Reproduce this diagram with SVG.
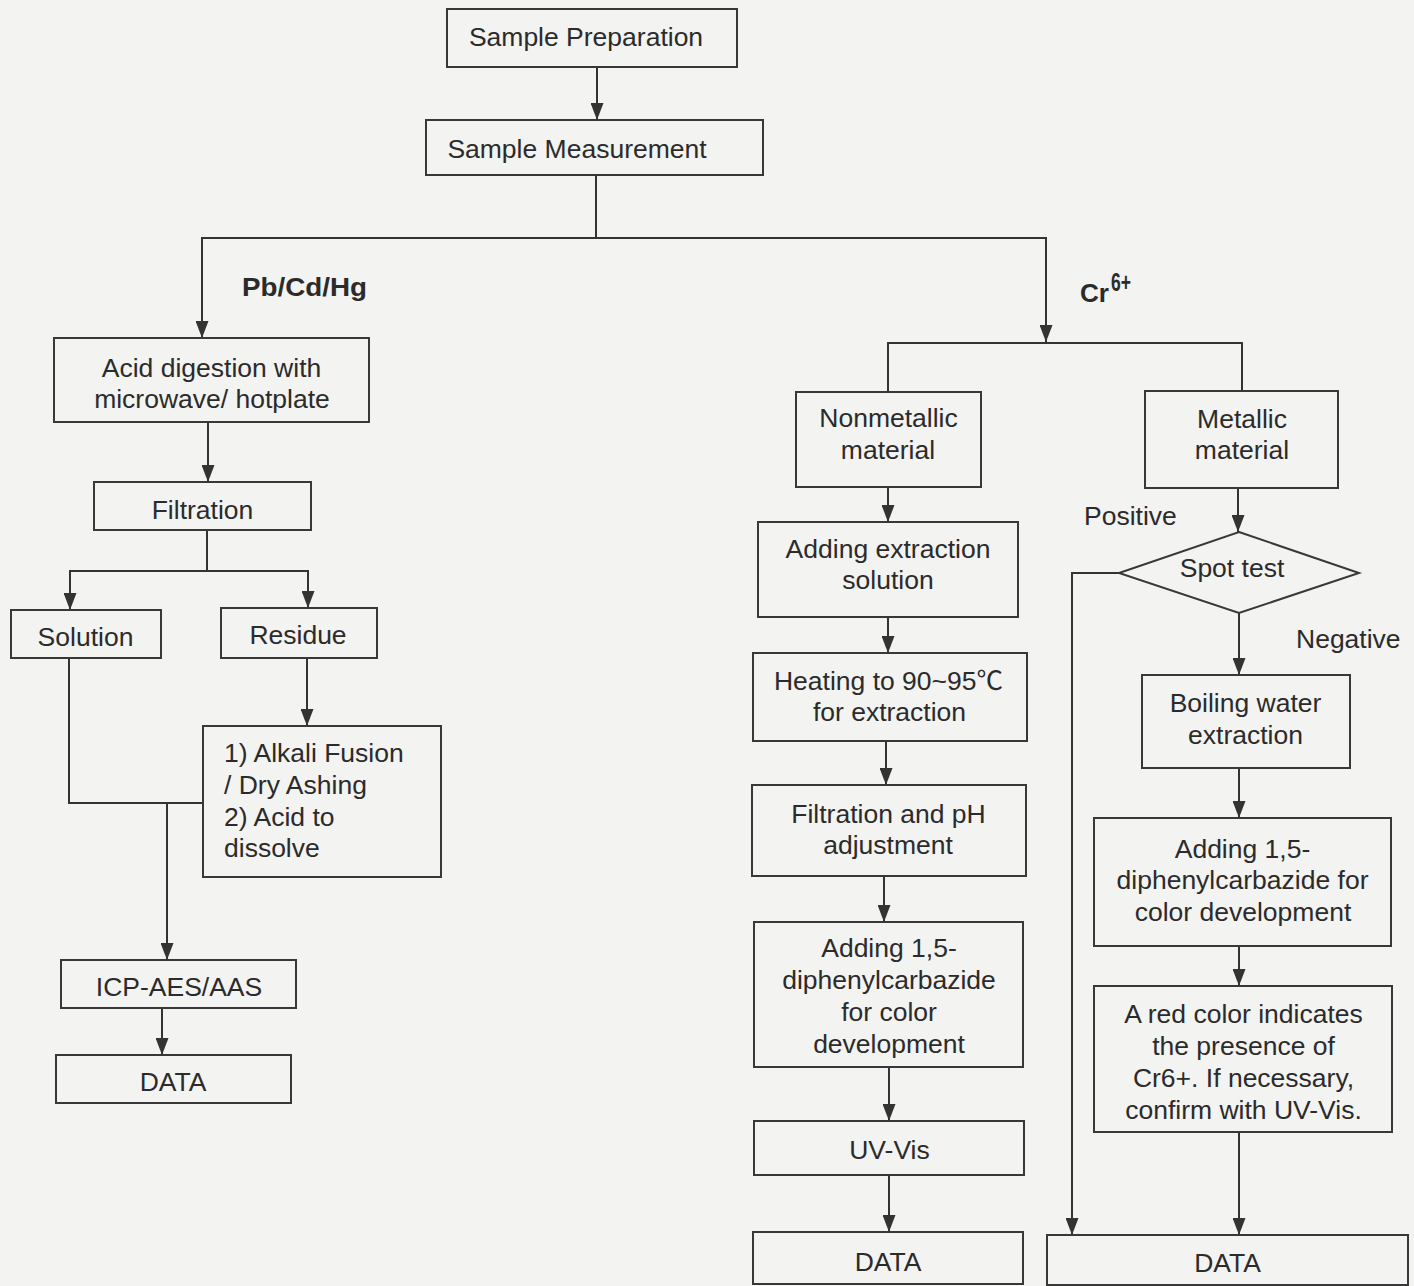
<svg xmlns="http://www.w3.org/2000/svg" width="1414" height="1286" viewBox="0 0 1414 1286">
<defs>
<marker id="arr" viewBox="0 0 17 13" refX="17" refY="6.5" markerWidth="17" markerHeight="13" markerUnits="userSpaceOnUse" orient="auto">
<path d="M0,0 L17,6.5 L0,13 z" fill="#333"/>
</marker>
<style>
.box{fill:none;stroke:#383838;stroke-width:2}
.t{font-family:"Liberation Sans",Arial,"Noto Sans CJK SC",sans-serif;font-size:26.5px;fill:#2b2b2b}
.c{text-anchor:middle}
.b{font-weight:bold}
.ln{fill:none;stroke:#333;stroke-width:2}
.ar{marker-end:url(#arr)}
</style>
</defs>
<rect x="0" y="0" width="1414" height="1286" fill="#f3f3f1"/>

<g id="connectors">
<path class="ln ar" d="M597,67 V120"/>
<path class="ln" d="M596,175 V238"/>
<path class="ln ar" d="M596,238 H202 V338"/>
<path class="ln ar" d="M596,238 H1046 V342"/>
<path class="ln" d="M888,392 V343 H1242 V391"/>
<path class="ln ar" d="M208,422 V482"/>
<path class="ln" d="M207,530 V571"/>
<path class="ln ar" d="M207,571 H70 V610"/>
<path class="ln ar" d="M207,571 H308 V608"/>
<path class="ln ar" d="M307,658 V726"/>
<path class="ln" d="M69,658 V803 H203"/>
<path class="ln ar" d="M167,803 V960"/>
<path class="ln ar" d="M162,1008 V1055"/>
<path class="ln ar" d="M888,487 V522"/>
<path class="ln ar" d="M888,617 V653"/>
<path class="ln ar" d="M886,741 V785"/>
<path class="ln ar" d="M884,876 V922"/>
<path class="ln ar" d="M889,1067 V1121"/>
<path class="ln ar" d="M889,1175 V1232"/>
<path class="ln ar" d="M1238,488 V532"/>
<path class="ln ar" d="M1239,613 V675"/>
<path class="ln ar" d="M1119,573 H1072 V1235"/>
<path class="ln ar" d="M1239,768 V818"/>
<path class="ln ar" d="M1239,946 V986"/>
<path class="ln ar" d="M1239,1132 V1235"/>
<text class="t b" x="242" y="296" font-size="22" textLength="125" lengthAdjust="spacingAndGlyphs">Pb/Cd/Hg</text>
<text class="t b" x="1080" y="302" font-size="22" textLength="29" lengthAdjust="spacingAndGlyphs">Cr</text>
<text class="t b" x="1111" y="291" font-size="11.5" textLength="20" lengthAdjust="spacingAndGlyphs">6+</text>
<text class="t" x="1084" y="525">Positive</text>
<text class="t" x="1296" y="648">Negative</text>
</g>

<g id="sample-preparation">
<rect class="box" x="447" y="9" width="290" height="58"/>
<text class="t c" x="586" y="46">Sample Preparation</text>
</g>
<g id="sample-measurement">
<rect class="box" x="426" y="120" width="337" height="55"/>
<text class="t c" x="577" y="158">Sample Measurement</text>
</g>
<g id="acid-digestion">
<rect class="box" x="54" y="338" width="315" height="84"/>
<text class="t c" x="211.5" y="377">Acid digestion with</text>
<text class="t c" x="212" y="408">microwave/ hotplate</text>
</g>
<g id="filtration">
<rect class="box" x="94" y="482" width="217" height="48"/>
<text class="t c" x="202.5" y="519">Filtration</text>
</g>
<g id="solution">
<rect class="box" x="11" y="610" width="150" height="48"/>
<text class="t c" x="85.5" y="646">Solution</text>
</g>
<g id="residue">
<rect class="box" x="221" y="608" width="156" height="50"/>
<text class="t c" x="298" y="644">Residue</text>
</g>
<g id="alkali-fusion">
<rect class="box" x="203" y="726" width="238" height="151"/>
<text class="t" x="224" y="762">1) Alkali Fusion</text>
<text class="t" x="224" y="794">/ Dry Ashing</text>
<text class="t" x="224" y="826">2) Acid to</text>
<text class="t" x="224" y="857">dissolve</text>
</g>
<g id="icp">
<rect class="box" x="61" y="960" width="235" height="48"/>
<text class="t c" x="179" y="996">ICP-AES/AAS</text>
</g>
<g id="data-left">
<rect class="box" x="56" y="1055" width="235" height="48"/>
<text class="t c" x="173" y="1091">DATA</text>
</g>

<g id="nonmetallic">
<rect class="box" x="796" y="392" width="185" height="95"/>
<text class="t c" x="888.5" y="427">Nonmetallic</text>
<text class="t c" x="888" y="459">material</text>
</g>
<g id="adding-extraction">
<rect class="box" x="758" y="522" width="260" height="95"/>
<text class="t c" x="888" y="558">Adding extraction</text>
<text class="t c" x="888" y="589">solution</text>
</g>
<g id="heating">
<rect class="box" x="753" y="653" width="274" height="88"/>
<text class="t c" x="888.5" y="690">Heating to 90~95℃</text>
<text class="t c" x="889.5" y="721">for extraction</text>
</g>
<g id="filtration-ph">
<rect class="box" x="752" y="785" width="274" height="91"/>
<text class="t c" x="888.5" y="823">Filtration and pH</text>
<text class="t c" x="888" y="854">adjustment</text>
</g>
<g id="adding-dpc-left">
<rect class="box" x="754" y="922" width="269" height="145"/>
<text class="t c" x="889" y="957">Adding 1,5-</text>
<text class="t c" x="889" y="989">diphenylcarbazide</text>
<text class="t c" x="889" y="1021">for color</text>
<text class="t c" x="889" y="1053">development</text>
</g>
<g id="uv-vis">
<rect class="box" x="754" y="1121" width="270" height="54"/>
<text class="t c" x="889.5" y="1159">UV-Vis</text>
</g>
<g id="data-middle">
<rect class="box" x="753" y="1232" width="270" height="52"/>
<text class="t c" x="888" y="1271">DATA</text>
</g>

<g id="metallic">
<rect class="box" x="1145" y="391" width="193" height="97"/>
<text class="t c" x="1242" y="428">Metallic</text>
<text class="t c" x="1242" y="459">material</text>
</g>
<g id="spot-test">
<polygon class="box" points="1239,532 1359,573 1239,613 1119,573"/>
<text class="t c" x="1232" y="577">Spot test</text>
</g>
<g id="boiling-water">
<rect class="box" x="1142" y="675" width="208" height="93"/>
<text class="t c" x="1245.5" y="712">Boiling water</text>
<text class="t c" x="1245.5" y="744">extraction</text>
</g>
<g id="adding-dpc-right">
<rect class="box" x="1094" y="818" width="297" height="128"/>
<text class="t c" x="1242.5" y="858">Adding 1,5-</text>
<text class="t c" x="1242.5" y="889">diphenylcarbazide for</text>
<text class="t c" x="1243" y="921">color development</text>
</g>
<g id="red-color">
<rect class="box" x="1094" y="986" width="298" height="146"/>
<text class="t c" x="1243.5" y="1023">A red color indicates</text>
<text class="t c" x="1243.5" y="1055">the presence of</text>
<text class="t c" x="1243.5" y="1087">Cr6+. If necessary,</text>
<text class="t c" x="1243.5" y="1119">confirm with UV-Vis.</text>
</g>
<g id="data-right">
<rect class="box" x="1047" y="1235" width="361" height="50"/>
<text class="t c" x="1227.5" y="1272">DATA</text>
</g>
</svg>
